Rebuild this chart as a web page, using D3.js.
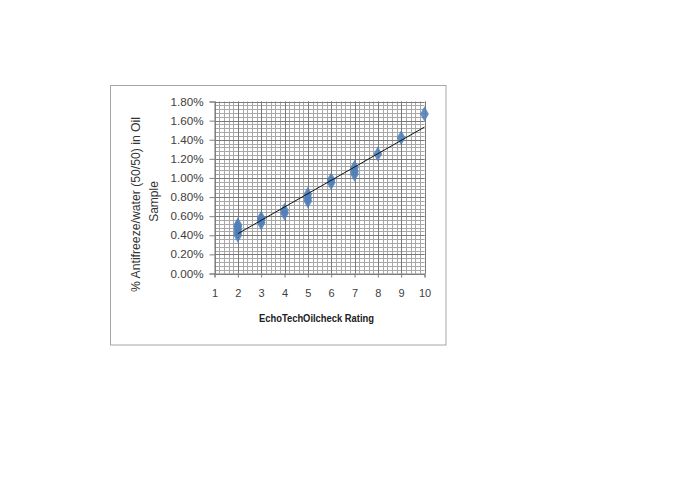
<!DOCTYPE html>
<html><head><meta charset="utf-8">
<script src="https://cdn.jsdelivr.net/npm/d3@7"></script>
<style>body{margin:0;background:#fff}svg{display:block}</style>
</head><body>
<script>
const ratings = [2,2,2,2,2, 3,3,3, 4,4, 5,5,5, 6,6, 7,7,7, 8, 9, 10];
const percents = [0.40,0.43,0.46,0.49,0.51, 0.53,0.56,0.58, 0.63,0.66, 0.76,0.79,0.83, 0.95,0.98, 1.04,1.07,1.11, 1.25, 1.42, 1.67];
const xTicks = [1,2,3,4,5,6,7,8,9,10];
const yTicks = [0,0.2,0.4,0.6,0.8,1.0,1.2,1.4,1.6,1.8];
const xTitle = "EchoTechOilcheck Rating";
const yTitleLines = ["% Antifreeze/water (50/50) in Oil", "Sample"];

const W = 682, H = 500;
const svg = d3.select("body").append("svg").attr("width", W).attr("height", H);

// chart border
svg.append("rect").attr("x",110.5).attr("y",85.5).attr("width",335.5).attr("height",259.5)
  .attr("fill","#fff").attr("stroke","#a6a6a6").attr("stroke-width",1);

const x = d3.scaleLinear().domain([1,10]).range([214.5,424.5]);
const y = d3.scaleLinear().domain([0,1.8]).range([273.5,101.5]);

const g = svg.append("g");
// minor grid
const xMinor = d3.range(1, 10.001, 0.2);
const yMinor = d3.range(0, 1.8001, 0.04);
g.selectAll(".vminor").data(xMinor).enter().append("line")
  .attr("x1",d=>Math.round(x(d))+0.5).attr("x2",d=>Math.round(x(d))+0.5)
  .attr("y1",y(1.8)).attr("y2",y(0)).attr("stroke","#a8a8a8").attr("stroke-width",1);
g.selectAll(".hminor").data(yMinor).enter().append("line")
  .attr("y1",d=>Math.round(y(d))+0.5).attr("y2",d=>Math.round(y(d))+0.5)
  .attr("x1",x(1)).attr("x2",x(10)).attr("stroke","#a8a8a8").attr("stroke-width",1);
// major grid
g.selectAll(".vmajor").data(xTicks).enter().append("line")
  .attr("x1",d=>Math.round(x(d))+0.5).attr("x2",d=>Math.round(x(d))+0.5)
  .attr("y1",y(1.8)).attr("y2",y(0)).attr("stroke","#7a7a7a").attr("stroke-width",1);
g.selectAll(".hmajor").data(yTicks).enter().append("line")
  .attr("y1",d=>Math.round(y(d))+0.5).attr("y2",d=>Math.round(y(d))+0.5)
  .attr("x1",x(1)).attr("x2",x(10)).attr("stroke","#7a7a7a").attr("stroke-width",1);

// axes
const font = "'Liberation Sans', Arial, sans-serif";
const yAxis = d3.axisLeft(y).tickValues(yTicks).tickSize(5).tickPadding(6)
  .tickFormat(d=>d.toFixed(2)+"%");
const ya = svg.append("g").attr("transform",`translate(${x(1)},0)`).call(yAxis);
ya.select(".domain").attr("stroke","#808080");
ya.selectAll(".tick line").attr("stroke","#808080");
ya.selectAll("text").attr("font-family",font).attr("font-size",11).attr("fill","#404040")
  .attr("textLength",33).attr("lengthAdjust","spacingAndGlyphs");

const xAxis = d3.axisBottom(x).tickValues(xTicks).tickSize(4).tickPadding(12).tickFormat(d3.format("d"));
const xa = svg.append("g").attr("transform",`translate(0,${y(0)})`).call(xAxis);
xa.select(".domain").attr("stroke","#808080");
xa.selectAll(".tick line").attr("stroke","#808080");
xa.selectAll("text").attr("font-family",font).attr("font-size",11).attr("fill","#404040");

// trendline (linear regression over data)
const data = ratings.map((r,i)=>({x:r, y:percents[i]}));
const mx = d3.mean(data,d=>d.x), my = d3.mean(data,d=>d.y);
const slope = d3.sum(data,d=>(d.x-mx)*(d.y-my)) / d3.sum(data,d=>(d.x-mx)**2);
const icpt = my - slope*mx;
const [x0,x1] = d3.extent(ratings);

// points
svg.append("g").selectAll("path").data(data).enter().append("path")
  .attr("d", d3.symbol().type(d3.symbolDiamond).size(66))
  .attr("transform", d=>`translate(${x(d.x)},${y(d.y)})`)
  .attr("fill","#5080b8").attr("fill-opacity",0.88);

svg.append("line").attr("x1",x(x0)).attr("y1",y(icpt+slope*x0))
  .attr("x2",x(x1)).attr("y2",y(icpt+slope*x1))
  .attr("stroke","#111").attr("stroke-width",1);

// titles
svg.append("text").attr("x",316.5).attr("y",322).attr("text-anchor","middle")
  .attr("font-family",font).attr("font-weight","bold").attr("font-size",10.5)
  .attr("textLength",115).attr("lengthAdjust","spacingAndGlyphs")
  .attr("fill","#222").text(xTitle);

svg.append("text").attr("transform","translate(139.5,204.5) rotate(-90)")
  .attr("font-family",font).attr("font-size",12).attr("fill","#333").attr("text-anchor","middle")
  .attr("textLength",175).attr("lengthAdjust","spacingAndGlyphs")
  .text(yTitleLines[0]);
svg.append("text").attr("transform","translate(157.5,201.5) rotate(-90)")
  .attr("font-family",font).attr("font-size",12).attr("fill","#333").attr("text-anchor","middle")
  .text(yTitleLines[1]);
</script>
</body></html>
